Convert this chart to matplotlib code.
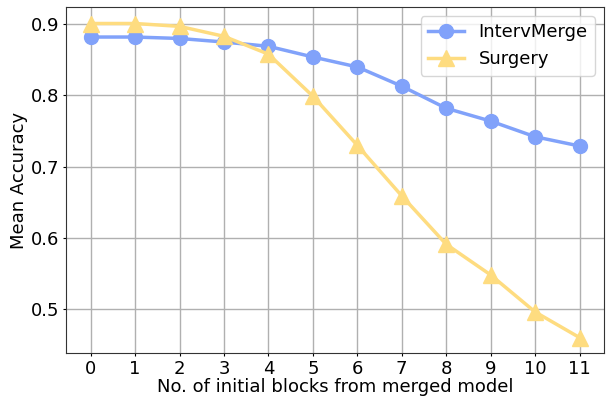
import numpy as np
import matplotlib.pyplot as plt

# datos
blocks = list(range(12))
interv_merge = [0.882, 0.882, 0.880, 0.875, 0.869, 0.854, 0.840, 0.813, 0.782, 0.764, 0.742, 0.729]
surgery = [0.901, 0.901, 0.897, 0.883, 0.858, 0.799, 0.730, 0.659, 0.591, 0.548, 0.496, 0.460]
xticks = [str(b) for b in blocks]

plt.rcParams['font.size'] = 13
fig, ax = plt.subplots(figsize=(6.07, 3.96), dpi=100)
ax.plot(blocks, interv_merge, color='#81a2fa', marker='o', markersize=10, linewidth=2.5, label='IntervMerge')
ax.plot(blocks, surgery, color='#fedc80', marker='^', markersize=11, linewidth=2.5, label='Surgery')
ax.set_xticks(blocks)
ax.set_xticklabels(xticks)
ax.set_yticks([0.5, 0.6, 0.7, 0.8, 0.9])
ax.set_ylim(0.438, 0.924)
ax.tick_params(length=2.5, pad=2.5)
ax.grid(True, color='#b0b0b0', linewidth=1)
ax.set_axisbelow(True)
for s in ax.spines.values():
    s.set_color('#333333')
ax.set_xlabel('No. of initial blocks from merged model', labelpad=0)
ax.set_ylabel('Mean Accuracy', labelpad=2)
ax.legend(loc='upper right')
fig.subplots_adjust(left=0.109, right=0.995, top=0.982, bottom=0.108)
fig.savefig('out.png')
